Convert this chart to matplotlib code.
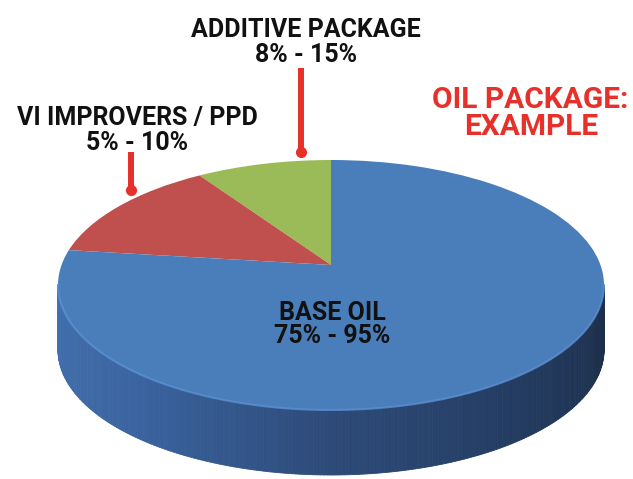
import numpy as np
import matplotlib
matplotlib.use("Agg")
import matplotlib.pyplot as plt
from matplotlib.patches import Polygon, PathPatch
from matplotlib.path import Path
import matplotlib.colors as mcolors

# ---- data ----
categories = ["ADDITIVE PACKAGE", "VI IMPROVERS / PPD", "BASE OIL"]
ranges = ["8% - 15%", "5% - 10%", "75% - 95%"]
shares = [8.0, 12.5, 79.5]          # visual slice sizes
colors = ["#9BBB59", "#C0504D", "#4A7EBB"]
title_lines = ["OIL PACKAGE:", "EXAMPLE"]

W, H = 633, 479
fig = plt.figure(figsize=(W / 100, H / 100), dpi=100)
fig.patch.set_facecolor("white")

# pie axes: unit circle mapped to an ellipse (cx=331, cy=285, rx=273, ry=125 px)
cx, cy, rx, ry = 331, 285, 273, 125
apex_y = (cy - 265) / ry   # perspective: the slice apex sits above the ellipse centre
ax = fig.add_axes([0, 0, 1, 1])
wedges, _ = ax.pie(shares, colors=colors, startangle=90, counterclock=True,
                   radius=1, center=(0, 0), wedgeprops=dict(linewidth=0))
for w in wedges:
    p = w.get_path()
    v = p.vertices.copy()
    near = np.hypot(v[:, 0], v[:, 1]) < 1e-6
    v[near, 1] = apex_y
    w.set_visible(False)
    ax.add_patch(PathPatch(Path(v, p.codes), facecolor=w.get_facecolor(),
                           edgecolor="none", linewidth=0, zorder=3))
ax.set_aspect("auto")
ax.set_xlim((0 - cx) / rx, (W - cx) / rx)
ax.set_ylim((cy - H) / ry, cy / ry)
ax.axis("off")

# side of the 3D disk (front half), shaded left->right
depth = 65 / ry
n = 240
th = np.linspace(np.pi, 2 * np.pi, n + 1)
cmap = mcolors.LinearSegmentedColormap.from_list(
    "side", ["#4371AE", "#3A64A0", "#2D4A78", "#233B60", "#1C2D48"])
for i in range(n):
    t1, t2 = th[i], th[i + 1]
    pts = [(np.cos(t1), np.sin(t1)), (np.cos(t2), np.sin(t2)),
           (np.cos(t2), np.sin(t2) - depth), (np.cos(t1), np.sin(t1) - depth)]
    c = cmap(i / n)
    ax.add_patch(Polygon(pts, closed=True, facecolor=c, edgecolor=c,
                         linewidth=0.6, zorder=1))
# subtle light rim on the front edge of the top face
ax.plot(np.cos(th), np.sin(th), color="#5A8FD2", lw=1.5, zorder=4, alpha=0.8)

# overlay axes in pixel coordinates for pointers
ov = fig.add_axes([0, 0, 1, 1])
ov.set_xlim(0, W)
ov.set_ylim(H, 0)
ov.axis("off")
ov.patch.set_alpha(0)
red = "#E8302A"
for x, y0, y1 in [(301, 68, 152), (131, 152, 190)]:
    ov.plot([x, x], [y0, y1], color=red, lw=4.3, solid_capstyle="butt", zorder=5)
    ov.plot([x], [y1], "o", color=red, ms=7, zorder=6)

def ftxt(x, y, s, size, color="#111111"):
    fig.text(x / W, 1 - y / H, s, ha="center", va="baseline",
             fontsize=size, fontweight="bold", color=color,
             family=["Roboto", "DejaVu Sans"])

ftxt(306, 37, categories[0], 18)
ftxt(306, 62, ranges[0], 18)
ftxt(137, 125, categories[1], 18)
ftxt(137, 150, ranges[1], 18)
ftxt(332, 320, categories[2], 18)
ftxt(332, 343, ranges[2], 18)
ftxt(530, 108, title_lines[0], 21.5, red)
ftxt(531, 135, title_lines[1], 21.5, red)

fig.savefig("out.png", dpi=100, facecolor="white")
